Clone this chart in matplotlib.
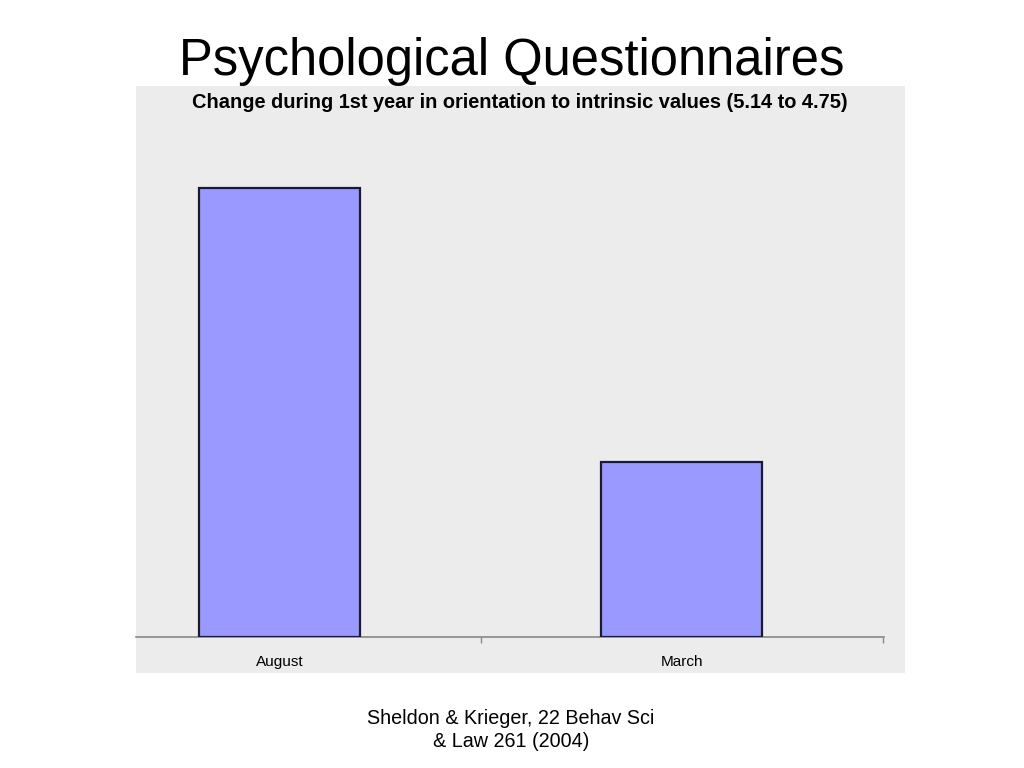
import matplotlib
matplotlib.use("Agg")
import matplotlib.pyplot as plt
from matplotlib.patches import Rectangle

plt.rcParams["font.family"] = ["Liberation Sans", "DejaVu Sans"]

categories = ["August", "March"]
values = [5.14, 4.75]
baseline = 4.5

fig = plt.figure(figsize=(10.24, 7.68), dpi=100)
W, H = 1024, 768

# gray chart panel behind the axes
fig.patches.append(Rectangle((136 / W, (H - 673) / H), 769 / W, 587 / H,
                             transform=fig.transFigure, facecolor="#ececec",
                             edgecolor="none", zorder=-5))

ax = fig.add_axes([136 / W, (H - 637) / H, 748 / W, 551 / H])
ax.set_facecolor("none")
x = range(len(categories))
ax.bar(x, [v - baseline for v in values], bottom=baseline, width=0.4,
       color="#9999ff", edgecolor="#1a1a33", linewidth=1.6, zorder=3)
ax.set_xlim(-0.3565, 1.502)
ax.set_ylim(baseline, baseline + 551 / 701.6)

for s in ["top", "left", "right"]:
    ax.spines[s].set_visible(False)
ax.spines["bottom"].set_color("#888888")
ax.spines["bottom"].set_linewidth(1.2)
ax.set_yticks([])
ax.set_xticks(list(x))
ax.set_xticklabels(categories, fontsize=11)
ax.tick_params(axis="x", length=0, pad=13)
ax.set_xticks([0.5, 1.5], minor=True)
ax.tick_params(axis="x", which="minor", length=4, color="#888888", width=1)

fig.text(0.5, (H - 62) / H, "Psychological Questionnaires", ha="center",
         va="center", fontsize=36.5)
fig.text(520 / W, (H - 102) / H,
         "Change during 1st year in orientation to intrinsic values (5.14 to 4.75)",
         ha="center", va="center", fontsize=14.4, fontweight="bold")
fig.text(511 / W, (H - 730) / H, "Sheldon & Krieger, 22 Behav Sci\n& Law 261 (2004)",
         ha="center", va="center", fontsize=14.2, linespacing=1.3)

fig.savefig("out.png", dpi=100)
